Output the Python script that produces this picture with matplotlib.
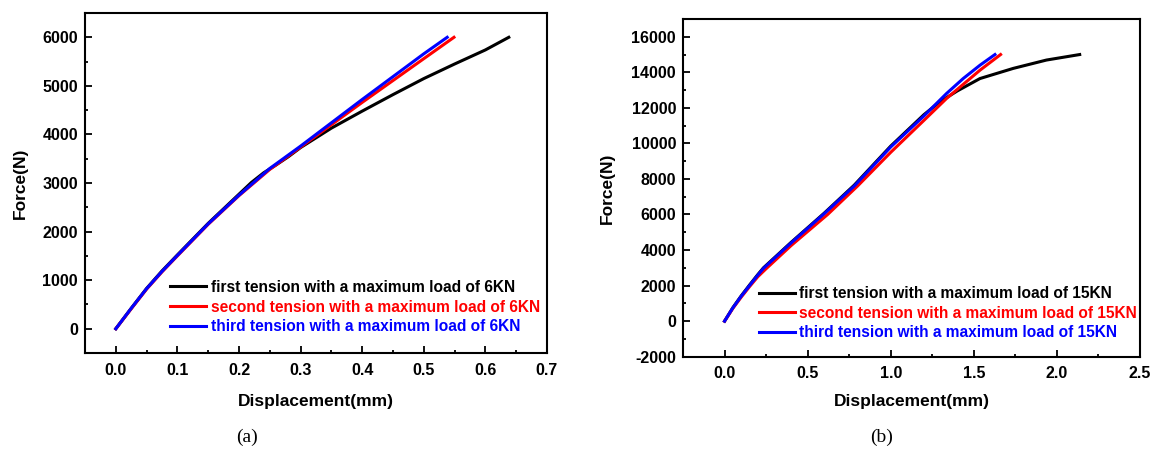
import matplotlib
matplotlib.use("Agg")
import matplotlib.pyplot as plt
from matplotlib.ticker import MultipleLocator

plt.rcParams['font.family'] = ['Liberation Sans', 'DejaVu Sans']
plt.rcParams['font.weight'] = 'bold'

# ---------------- Panel (a) data: 6KN ----------------
a_first_x = [0.0, 0.025, 0.05, 0.075, 0.10, 0.15, 0.20, 0.22, 0.24, 0.26, 0.28, 0.30, 0.32, 0.35,
             0.40, 0.45, 0.50, 0.55, 0.60, 0.638]
a_first_y = [0, 420, 830, 1190, 1520, 2170, 2770, 3010, 3210, 3370, 3540, 3730, 3890, 4130,
             4480, 4820, 5150, 5450, 5740, 6000]
a_second_x = [0.0, 0.025, 0.05, 0.075, 0.10, 0.15, 0.20, 0.25, 0.30, 0.35, 0.40, 0.45, 0.50, 0.549]
a_second_y = [0, 410, 815, 1170, 1500, 2150, 2740, 3280, 3740, 4200, 4660, 5110, 5560, 6000]
a_third_x = [0.0, 0.025, 0.05, 0.075, 0.10, 0.15, 0.20, 0.25, 0.30, 0.35, 0.40, 0.45, 0.50, 0.538]
a_third_y = [0, 420, 825, 1180, 1510, 2160, 2750, 3300, 3760, 4240, 4720, 5190, 5660, 6000]
a_labels = ["first tension with a maximum load of 6KN",
            "second tension with a maximum load of 6KN",
            "third tension with a maximum load of 6KN"]

# ---------------- Panel (b) data: 15KN ----------------
b_first_x = [0.0, 0.05, 0.10, 0.15, 0.20, 0.234, 0.40, 0.60, 0.78, 1.00, 1.20, 1.29, 1.34, 1.40,
             1.537, 1.737, 1.937, 2.137]
b_first_y = [0, 760, 1420, 2030, 2620, 3000, 4430, 6080, 7650, 9850, 11620, 12300, 12600, 12950,
             13650, 14220, 14690, 15000]
b_second_x = [0.0, 0.05, 0.10, 0.15, 0.20, 0.25, 0.40, 0.62, 0.80, 1.00, 1.20, 1.336, 1.537, 1.661]
b_second_y = [0, 720, 1350, 1940, 2500, 2950, 4250, 6000, 7600, 9500, 11300, 12530, 14120, 15000]
b_third_x = [0.0, 0.05, 0.10, 0.15, 0.20, 0.234, 0.40, 0.60, 0.78, 1.00, 1.20, 1.336, 1.436,
             1.537, 1.627]
b_third_y = [0, 750, 1400, 2000, 2590, 2970, 4400, 6050, 7600, 9800, 11550, 12810, 13650,
             14400, 15000]
b_labels = ["first tension with a maximum load of 15KN",
            "second tension with a maximum load of 15KN",
            "third tension with a maximum load of 15KN"]

colors = ["black", "red", "blue"]

fig = plt.figure(figsize=(11.52, 4.49), dpi=100)
axA = fig.add_axes([0.0738, 0.2138, 0.4010, 0.7572])
axB = fig.add_axes([0.5929, 0.2056, 0.3967, 0.7521])

TICK_FS = 11.5
LABEL_FS = 12.5
LEG_FS = 11.2


def style(ax):
    for s in ax.spines.values():
        s.set_linewidth(1.5)
    ax.tick_params(which='both', direction='in', top=False, right=False, width=1.3)
    ax.tick_params(which='major', length=5, labelsize=TICK_FS, pad=5)
    ax.tick_params(which='minor', length=2.5)
    ax.tick_params(axis='x', which='major', pad=7)
    for lab in ax.get_xticklabels() + ax.get_yticklabels():
        lab.set_fontweight('bold')


# Panel (a)
for xs, ys, c, lab in zip([a_first_x, a_second_x, a_third_x],
                          [a_first_y, a_second_y, a_third_y], colors, a_labels):
    axA.plot(xs, ys, color=c, lw=2.2, label=lab)
axA.set_xlim(-0.05, 0.7)
axA.set_ylim(-500, 6500)
axA.xaxis.set_major_locator(MultipleLocator(0.1))
axA.xaxis.set_minor_locator(MultipleLocator(0.05))
axA.yaxis.set_major_locator(MultipleLocator(1000))
axA.yaxis.set_minor_locator(MultipleLocator(500))
axA.xaxis.set_major_formatter(plt.FuncFormatter(lambda v, p: f"{v:.1f}"))
axA.yaxis.set_major_formatter(plt.FuncFormatter(lambda v, p: f"{v:.0f}"))
style(axA)
axA.set_xlabel("Displacement(mm)", fontsize=LABEL_FS, fontweight='bold', va='center')
axA.set_ylabel("Force(N)", fontsize=LABEL_FS, fontweight='bold', va='center')
axA.xaxis.set_label_coords(0.5, -0.144)
axA.yaxis.set_label_coords(-0.141, 0.5)
axA.legend(loc='center left', bbox_to_anchor=(0.184, 0.135), frameon=False,
           borderpad=0, borderaxespad=0, handlelength=2.3, handletextpad=0.35,
           labelspacing=0.3, labelcolor='linecolor',
           prop={'weight': 'bold', 'size': LEG_FS})

# Panel (b)
for xs, ys, c, lab in zip([b_first_x, b_second_x, b_third_x],
                          [b_first_y, b_second_y, b_third_y], colors, b_labels):
    axB.plot(xs, ys, color=c, lw=2.2, label=lab)
axB.set_xlim(-0.25, 2.5)
axB.set_ylim(-2000, 17000)
axB.xaxis.set_major_locator(MultipleLocator(0.5))
axB.xaxis.set_minor_locator(MultipleLocator(0.25))
axB.yaxis.set_major_locator(MultipleLocator(2000))
axB.yaxis.set_minor_locator(MultipleLocator(1000))
axB.xaxis.set_major_formatter(plt.FuncFormatter(lambda v, p: f"{v:.1f}"))
axB.yaxis.set_major_formatter(plt.FuncFormatter(lambda v, p: f"{v:.0f}"))
style(axB)
axB.set_xlabel("Displacement(mm)", fontsize=LABEL_FS, fontweight='bold', va='center')
axB.set_ylabel("Force(N)", fontsize=LABEL_FS, fontweight='bold', va='center')
axB.xaxis.set_label_coords(0.5, -0.134)
axB.yaxis.set_label_coords(-0.166, 0.5)
axB.legend(loc='center left', bbox_to_anchor=(0.166, 0.129), frameon=False,
           borderpad=0, borderaxespad=0, handlelength=2.3, handletextpad=0.25,
           labelspacing=0.3, labelcolor='linecolor',
           prop={'weight': 'bold', 'size': LEG_FS})

fig.text(247 / 1152, 1 - 437 / 449, "(a)", family=['Liberation Serif', 'DejaVu Serif'],
         fontsize=14, fontweight='normal', ha='center', va='center')
fig.text(882 / 1152, 1 - 437 / 449, "(b)", family=['Liberation Serif', 'DejaVu Serif'],
         fontsize=14, fontweight='normal', ha='center', va='center')

fig.savefig("out.png", dpi=100)
